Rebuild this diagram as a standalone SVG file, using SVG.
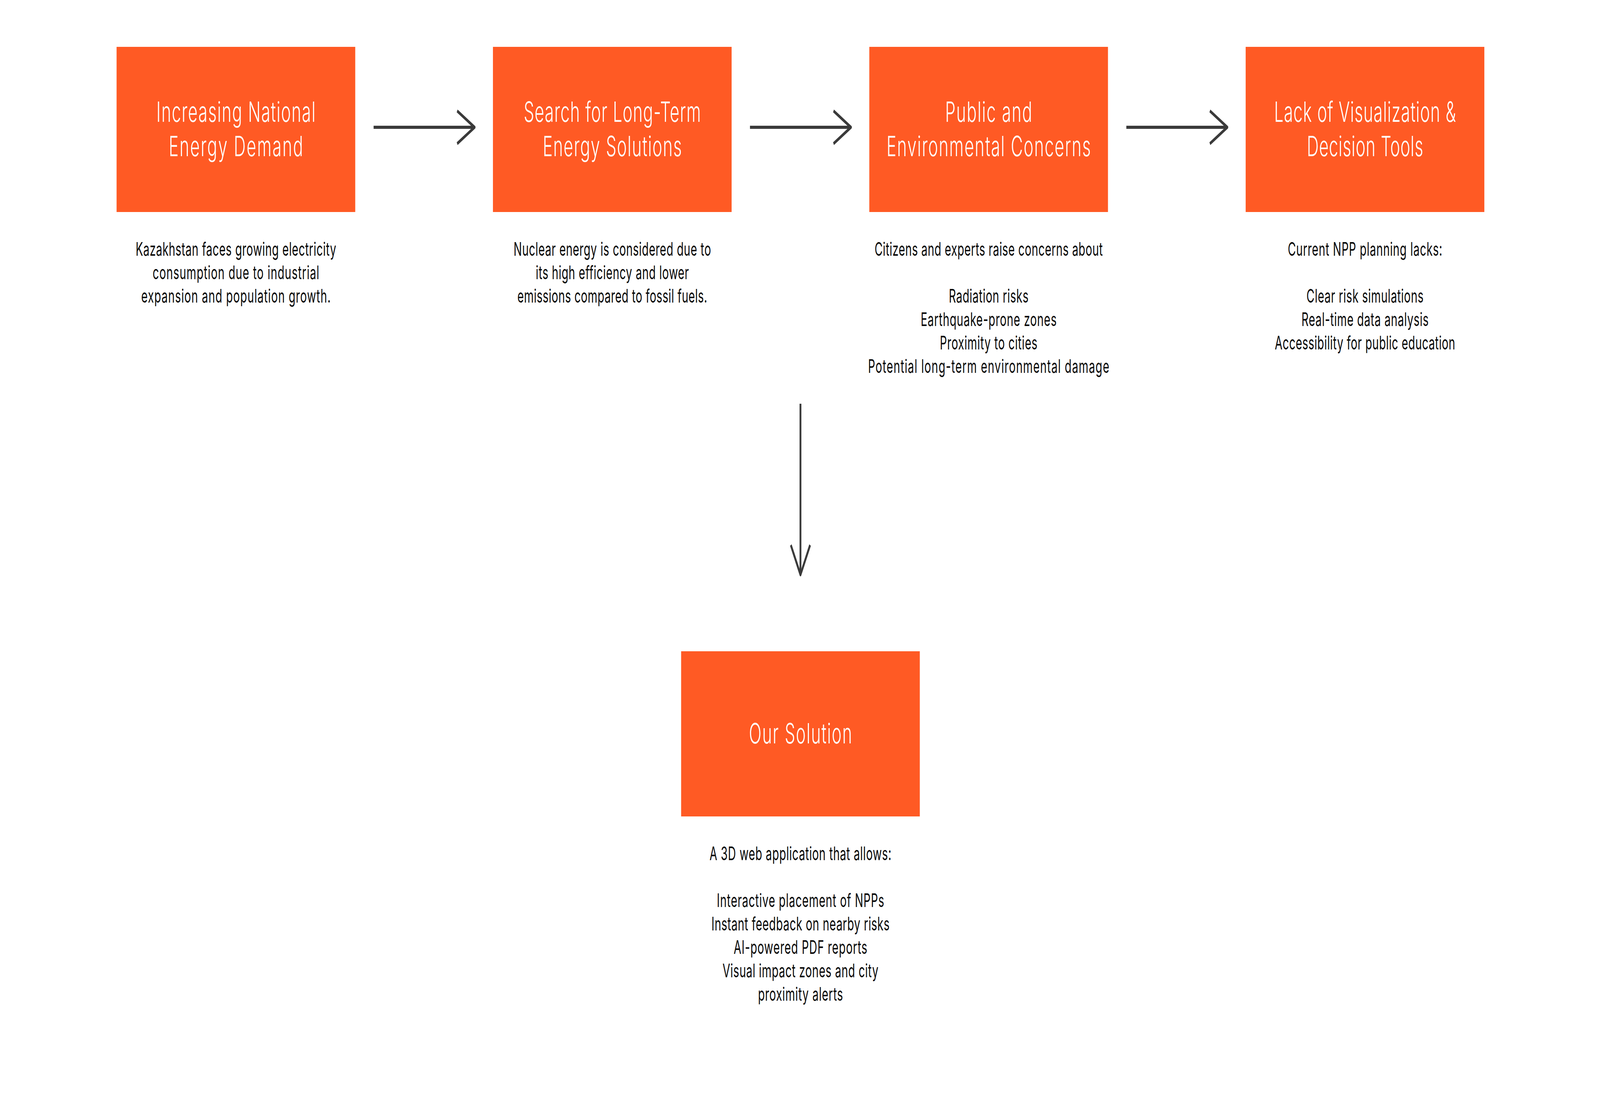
<svg xmlns="http://www.w3.org/2000/svg" width="6972" height="2848" viewBox="0 0 6972 2848" preserveAspectRatio="none" style="width:100%;height:100%;display:block">
<style>
.box{fill:#FF5A24}
.title{font-family:Inter,"Open Sans","Liberation Sans",sans-serif;font-weight:300;font-size:72px;fill:#FFFFFF;text-anchor:middle}
.body{font-family:Inter,"Open Sans","Liberation Sans",sans-serif;font-weight:400;font-size:48px;fill:#0A0A0A;text-anchor:middle}
.conn{stroke:#3A3A3A;stroke-width:8;fill:none}
</style>
<defs>
<marker id="arr" markerUnits="userSpaceOnUse" markerWidth="200" markerHeight="200" refX="0" refY="0" orient="auto" overflow="visible">
<path d="M-76,-42 L0,0 L-76,42" fill="none" stroke="#3A3A3A" stroke-width="8" stroke-linejoin="round"/>
</marker>
</defs>
<rect width="6972" height="2848" fill="#FFFFFF"/>
<g id="connectors">
<line class="conn" x1="1628" y1="326" x2="2068" y2="326" marker-end="url(#arr)"/>
<line class="conn" x1="3268" y1="326" x2="3708" y2="326" marker-end="url(#arr)"/>
<line class="conn" x1="4908" y1="326" x2="5348" y2="326" marker-end="url(#arr)"/>
<line class="conn" x1="3488" y1="1034" x2="3488" y2="1472" marker-end="url(#arr)"/>
</g>
<g id="node1">
<rect class="box" x="508" y="120" width="1040" height="423"/>
<text class="title" x="1028" y="312" textLength="693" lengthAdjust="spacing">Increasing National</text>
<text class="title" x="1028" y="400" textLength="585" lengthAdjust="spacing">Energy Demand</text>
<text class="body" x="1028" y="655" textLength="874" lengthAdjust="spacing">Kazakhstan faces growing electricity</text>
<text class="body" x="1028" y="715" textLength="726" lengthAdjust="spacing">consumption due to industrial</text>
<text class="body" x="1028" y="775" textLength="825" lengthAdjust="spacing">expansion and population growth.</text>
</g>
<g id="node2">
<rect class="box" x="2148" y="120" width="1040" height="423"/>
<text class="title" x="2668" y="312" textLength="772" lengthAdjust="spacing">Search for Long-Term</text>
<text class="title" x="2668" y="400" textLength="606" lengthAdjust="spacing">Energy Solutions</text>
<text class="body" x="2668" y="655" textLength="860" lengthAdjust="spacing">Nuclear energy is considered due to</text>
<text class="body" x="2668" y="715" textLength="667" lengthAdjust="spacing">its high efficiency and lower</text>
<text class="body" x="2668" y="775" textLength="827" lengthAdjust="spacing">emissions compared to fossil fuels.</text>
</g>
<g id="node3">
<rect class="box" x="3788" y="120" width="1040" height="423"/>
<text class="title" x="4308" y="312" textLength="379" lengthAdjust="spacing">Public and</text>
<text class="title" x="4308" y="400" textLength="890" lengthAdjust="spacing">Environmental Concerns</text>
<text class="body" x="4308" y="655" textLength="994" lengthAdjust="spacing">Citizens and experts raise concerns about</text>
<text class="body" x="4308" y="775" textLength="347" lengthAdjust="spacing">Radiation risks</text>
<text class="body" x="4308" y="835" textLength="592" lengthAdjust="spacing">Earthquake-prone zones</text>
<text class="body" x="4308" y="895" textLength="425" lengthAdjust="spacing">Proximity to cities</text>
<text class="body" x="4308" y="955" textLength="1051" lengthAdjust="spacing">Potential long-term environmental damage</text>
</g>
<g id="node4">
<rect class="box" x="5428" y="120" width="1040" height="423"/>
<text class="title" x="5948" y="312" textLength="792" lengthAdjust="spacing">Lack of Visualization &amp;</text>
<text class="title" x="5948" y="400" textLength="507" lengthAdjust="spacing">Decision Tools</text>
<text class="body" x="5948" y="655" textLength="673" lengthAdjust="spacing">Current NPP planning lacks:</text>
<text class="body" x="5948" y="775" textLength="510" lengthAdjust="spacing">Clear risk simulations</text>
<text class="body" x="5948" y="835" textLength="554" lengthAdjust="spacing">Real-time data analysis</text>
<text class="body" x="5948" y="895" textLength="786" lengthAdjust="spacing">Accessibility for public education</text>
</g>
<g id="node5">
<rect class="box" x="2968" y="1668" width="1040" height="423"/>
<text class="title" x="3488" y="1904" textLength="449" lengthAdjust="spacing">Our Solution</text>
<text class="body" x="3488" y="2203" textLength="792" lengthAdjust="spacing">A 3D web application that allows:</text>
<text class="body" x="3488" y="2323" textLength="729" lengthAdjust="spacing">Interactive placement of NPPs</text>
<text class="body" x="3488" y="2383" textLength="776" lengthAdjust="spacing">Instant feedback on nearby risks</text>
<text class="body" x="3488" y="2443" textLength="582" lengthAdjust="spacing">AI-powered PDF reports</text>
<text class="body" x="3488" y="2503" textLength="679" lengthAdjust="spacing">Visual impact zones and city</text>
<text class="body" x="3488" y="2563" textLength="370" lengthAdjust="spacing">proximity alerts</text>
</g>
</svg>
